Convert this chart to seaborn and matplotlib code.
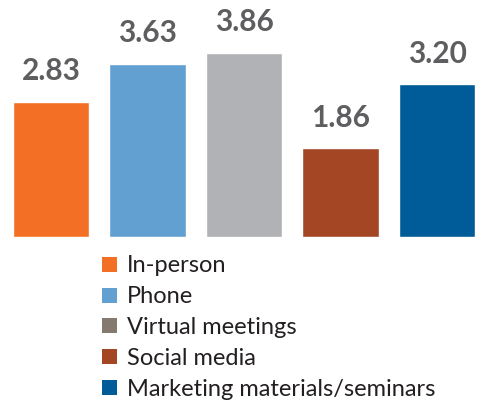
import matplotlib
matplotlib.use("Agg")
import matplotlib.pyplot as plt
from matplotlib.patches import Patch
import seaborn as sns
import pandas as pd

# --- Data ---
channels = ["In-person", "Phone", "Virtual meetings", "Social media",
            "Marketing materials/seminars"]
scores = [2.83, 3.63, 3.86, 1.86, 3.20]
bar_colors = ["#F26F25", "#63A0D2", "#B1B2B5", "#A44624", "#005C99"]
legend_colors = ["#F26F25", "#63A0D2", "#857A70", "#A44624", "#005C99"]

df = pd.DataFrame({"channel": channels, "score": scores})

sns.set_theme(style="white")
plt.rcParams["font.family"] = ["Lato", "DejaVu Sans"]

fig = plt.figure(figsize=(4.8, 4.07), dpi=100)
ax = fig.add_axes([0, 170 / 407, 1, 237 / 407])

sns.barplot(data=df, x="channel", y="score", hue="channel",
            palette=bar_colors, width=0.79, saturation=1,
            legend=False, ax=ax)

for c in ax.containers:
    ax.bar_label(c, fmt="%.2f", padding=12, fontsize=21.5,
                 fontweight="bold", color="#5E5E60")

ax.set_xlim(-0.528, 4.446)
ax.set_ylim(0, 4.97)
ax.axis("off")

# legend
handles = [Patch(facecolor=col, edgecolor="none") for col in legend_colors]
fig.legend(handles, channels, loc="upper left",
           bbox_to_anchor=(93 / 480, 1 - 246 / 407),
           frameon=False, fontsize=17, handlelength=0.6,
           handleheight=0.6, handletextpad=0.45, labelspacing=0.42,
           borderaxespad=0, labelcolor="#231F20")

fig.savefig("out.png", dpi=100)
